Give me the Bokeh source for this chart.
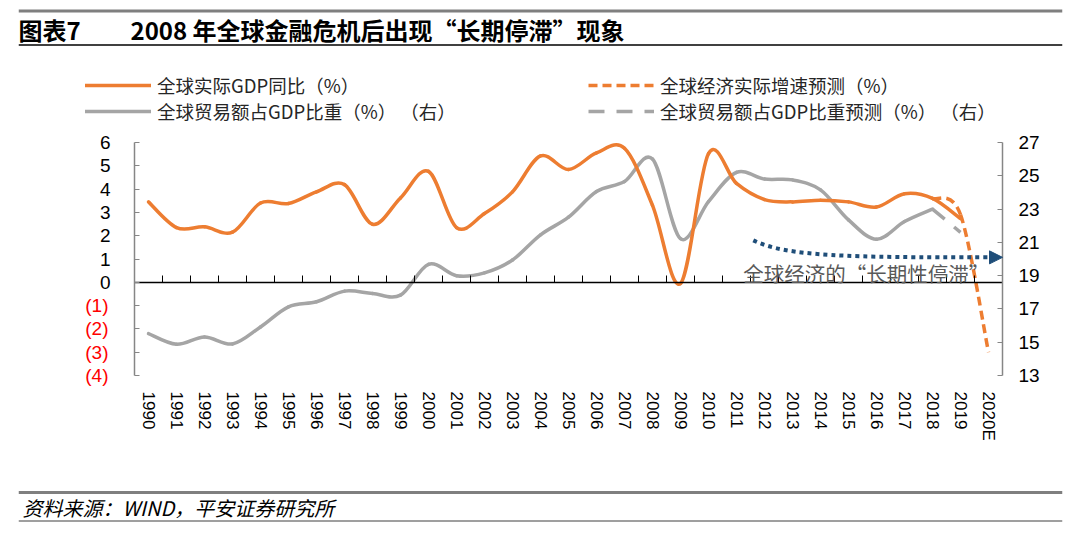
import numpy as np
from bokeh.plotting import figure
from bokeh.models import (Range1d, LinearAxis, FixedTicker, Legend, LegendItem,
                          Label, Span, Arrow, NormalHead)
from bokeh.layouts import column
from bokeh.embed import file_html
from bokeh.resources import INLINE

# ---------------- data ----------------
years = [str(y) for y in range(1990, 2020)] + ["2020E"]

gdp_years = [str(y) for y in range(1990, 2020)]
gdp = [3.45, 2.35, 2.38, 2.15, 3.40, 3.38, 3.88, 4.19, 2.49, 3.62,
       4.76, 2.35, 2.95, 3.88, 5.42, 4.84, 5.55, 5.75, 3.30, -0.05,
       5.52, 4.24, 3.55, 3.45, 3.52, 3.45, 3.23, 3.80, 3.60, 2.73]

gdp_fc_years = ["2018", "2019", "2020E"]
gdp_fc = [3.60, 2.90, -3.00]

trade_years = [str(y) for y in range(1990, 2019)]
trade = [15.52, 14.88, 15.32, 14.90, 15.92, 17.13, 17.43, 18.07, 17.93, 17.83,
         19.68, 19.00, 19.17, 19.94, 21.45, 22.51, 24.05, 24.65, 26.00, 21.22,
         23.45, 25.20, 24.80, 24.75, 24.15, 22.35, 21.18, 22.25, 23.00]

trade_fc_years = ["2018", "2019"]
trade_fc = [23.00, 21.60]

left_ticks = [-4, -3, -2, -1, 0, 1, 2, 3, 4, 5, 6]
left_labels = {-4: "(4)", -3: "(3)", -2: "(2)", -1: "(1)"}
right_ticks = [13, 15, 17, 19, 21, 23, 25, 27]

series_names = ["全球实际GDP同比（%）", "全球贸易额占GDP比重（%） （右）",
                "全球经济实际增速预测（%）", "全球贸易额占GDP比重预测（%） （右）"]
note_text = "全球经济的“长期性停滞”"
title_a = "图表7"
title_b = "2008 年全球金融危机后出现“长期停滞”现象"
source_text = "资料来源：WIND，平安证券研究所"

# ---------------- style ----------------
ORANGE = "#ED7D31"
GRAY = "#A5A5A5"
NAVY = "#1F4E79"
AXIS_GRAY = "#868686"
CJK = "Noto Sans CJK SC"
LAT = "Liberation Sans"

W = 1072
BL, BR = 18, 10          # frame spans page x 18 .. 1062 in all three figures
# category slot = 28 px, first category centre at page x 148
X0 = -0.5 - (134 - BL) / 28.0
X1 = 30.5 + ((W - BR) - 1002) / 28.0
# frame extends below the axes so that the tick labels sit inside it
Y_LO, Y_HI = -7.0, 9.0
R_LO, R_HI = 13 - 3 * 1.4, 13 + 13 * 1.4

idx = {y: i for i, y in enumerate(years)}


def smooth(xcats, ys):
    """Bezier segments through the data points (Excel-like smoothed line)."""
    xs = np.array([idx[c] for c in xcats], float)
    ys = np.array(ys, float)
    n = len(xs)
    out = {k: [] for k in ("x0", "y0", "x1", "y1", "cx0", "cy0", "cx1", "cy1")}
    for i in range(n - 1):
        pm = i - 1 if i > 0 else i
        pp = i + 2 if i + 2 < n else i + 1
        out["x0"].append(xs[i]); out["y0"].append(ys[i])
        out["x1"].append(xs[i + 1]); out["y1"].append(ys[i + 1])
        out["cx0"].append(xs[i] + (xs[i + 1] - xs[pm]) / 6.0)
        out["cy0"].append(ys[i] + (ys[i + 1] - ys[pm]) / 6.0)
        out["cx1"].append(xs[i + 1] - (xs[pp] - xs[i]) / 6.0)
        out["cy1"].append(ys[i + 1] - (ys[pp] - ys[i]) / 6.0)
    return out


# ---------------- header ----------------
hdr = figure(width=W, height=52, x_range=Range1d(BL, W - BR), y_range=Range1d(52, 0),
             x_axis_type=None, y_axis_type=None, output_backend="svg",
             toolbar_location=None, min_border_left=BL, min_border_right=BR,
             min_border_top=0, min_border_bottom=0)
hdr.outline_line_color = None
hdr.add_layout(Span(location=10.5, dimension="width", line_color="#7F7F7F", line_width=3))
hdr.add_layout(Span(location=44.5, dimension="width", line_color="black", line_width=1.5))
hdr.add_layout(Label(x=18, y=29, text=title_a, text_font=CJK, text_font_style="bold",
                     text_font_size="24px", text_color="black", text_baseline="middle"))
hdr.add_layout(Label(x=130, y=29, text=title_b, text_font=CJK, text_font_style="bold",
                     text_font_size="24px", text_color="black", text_baseline="middle"))

# ---------------- main chart ----------------
p = figure(width=W, height=428, x_range=Range1d(X0, X1), y_range=Range1d(Y_LO, Y_HI),
           x_axis_type=None, y_axis_type=None, output_backend="svg",
           toolbar_location=None, min_border_left=BL, min_border_right=BR,
           min_border_top=20, min_border_bottom=35)
p.outline_line_color = None
p.extra_y_ranges = {"right": Range1d(R_LO, R_HI)}

# x labels under the axis box
xlab = LinearAxis(fixed_location=-4, ticker=FixedTicker(ticks=list(range(len(years)))),
                  major_label_overrides={i: y for i, y in enumerate(years)},
                  major_label_orientation="vertical", axis_line_color=None,
                  major_tick_line_color=None, minor_tick_line_color=None,
                  major_label_standoff=10, major_label_text_font=LAT,
                  major_label_text_font_size="17px", major_label_text_color="black")
p.add_layout(xlab, "below")

# category axis line drawn on the zero line
xzero = LinearAxis(fixed_location=0, bounds=(-0.5, 30.5),
                   ticker=FixedTicker(ticks=[i + 0.5 for i in range(len(years) - 1)]),
                   major_label_overrides={i + 0.5: "" for i in range(len(years) - 1)},
                   major_tick_in=7, major_tick_out=0, minor_tick_line_color=None,
                   axis_line_color="black", axis_line_width=1.5,
                   major_tick_line_color="black", major_tick_line_width=1,
                   major_label_text_font_size="1px")
p.add_layout(xzero, "below")

# left axis (black labels 0..6)
yl = LinearAxis(fixed_location=-0.5, ticker=FixedTicker(ticks=left_ticks), bounds=(-4, 6),
                major_label_overrides={v: "" for v in left_labels},
                axis_line_color=AXIS_GRAY, axis_line_width=1.5,
                major_tick_in=5, major_tick_out=0, major_tick_line_color=AXIS_GRAY,
                minor_tick_line_color=None, major_label_standoff=24,
                major_label_text_font=LAT, major_label_text_font_size="19px",
                major_label_text_color="black")
p.add_layout(yl, "left")

# red labels for negative values
yneg = LinearAxis(fixed_location=-0.5, ticker=FixedTicker(ticks=list(left_labels.keys())),
                  major_label_overrides=left_labels, axis_line_color=None,
                  major_tick_line_color=None, minor_tick_line_color=None,
                  major_label_standoff=20, major_label_text_font=LAT,
                  major_label_text_font_size="19px", major_label_text_color="#FF0000")
p.add_layout(yneg, "left")

# right axis
yr = LinearAxis(fixed_location=30.5, y_range_name="right", ticker=FixedTicker(ticks=right_ticks),
                bounds=(13, 27), axis_line_color=AXIS_GRAY, axis_line_width=1.5,
                major_tick_in=5, major_tick_out=0, major_tick_line_color=AXIS_GRAY,
                minor_tick_line_color=None, major_label_standoff=16,
                major_label_text_font=LAT, major_label_text_font_size="19px",
                major_label_text_color="black")
p.add_layout(yr, "right")

# series
r_trade = p.bezier(**smooth(trade_years, trade), y_range_name="right",
                   line_color=GRAY, line_width=3.5, line_cap="round")
r_gdp = p.bezier(**smooth(gdp_years, gdp), line_color=ORANGE, line_width=3.5,
                 line_cap="round")
r_trade_fc = p.bezier(**smooth(trade_fc_years, trade_fc), y_range_name="right",
                      line_color=GRAY, line_width=3.5, line_dash="16 12")
r_gdp_fc = p.bezier(**smooth(gdp_fc_years, gdp_fc), line_color=ORANGE, line_width=3.5,
                    line_dash="9 5")

# annotation: dotted arrow + text
ARW = dict(x0=[21.6], y0=[1.80], cx0=[22.8], cy0=[1.10], cx1=[25.0], cy1=[1.07],
           x1=[30.0], y1=[1.07])
p.bezier(**ARW, line_color=NAVY, line_width=4, line_dash="4 4")
p.add_layout(Arrow(end=NormalHead(size=13, fill_color=NAVY, line_color=NAVY),
                   x_start=30.0, y_start=1.07, x_end=30.5, y_end=1.07,
                   line_alpha=0))
p.add_layout(Label(x=21.24, y=0.39, text=note_text, text_font=CJK,
                   text_font_size="20.5px", text_color="#595959", text_baseline="middle"))


# legends
def make_legend(items, loc):
    return Legend(items=items, location=loc, padding=0, margin=0, spacing=0,
                  glyph_width=66, glyph_height=22, label_height=22, label_standoff=6,
                  border_line_color=None, background_fill_alpha=0,
                  label_text_font=CJK, label_text_font_size="18.5px",
                  label_text_color="#262626")


leg1 = make_legend([LegendItem(label=series_names[0], renderers=[r_gdp]),
                    LegendItem(label=series_names[1], renderers=[r_trade])], (85 - BL, 321))
leg2 = make_legend([LegendItem(label=series_names[2], renderers=[r_gdp_fc]),
                    LegendItem(label=series_names[3], renderers=[r_trade_fc])], (588 - BL, 321))
p.add_layout(leg1)
p.add_layout(leg2)

# ---------------- footer ----------------
ftr = figure(width=W, height=47, x_range=Range1d(BL, W - BR), y_range=Range1d(47, 0),
             x_axis_type=None, y_axis_type=None, output_backend="svg",
             toolbar_location=None, min_border_left=BL, min_border_right=BR,
             min_border_top=0, min_border_bottom=0)
ftr.outline_line_color = None
ftr.add_layout(Span(location=12, dimension="width", line_color="#7F7F7F", line_width=3))
ftr.add_layout(Span(location=40.5, dimension="width", line_color="#7F7F7F", line_width=1.5))
ftr.add_layout(Label(x=22, y=27, text=source_text, text_font=CJK, text_font_style="italic",
                     text_font_size="20px", text_color="black", text_baseline="middle"))

layout = column(hdr, p, ftr, spacing=0)
open("out.html", "w").write(file_html(layout, INLINE))
